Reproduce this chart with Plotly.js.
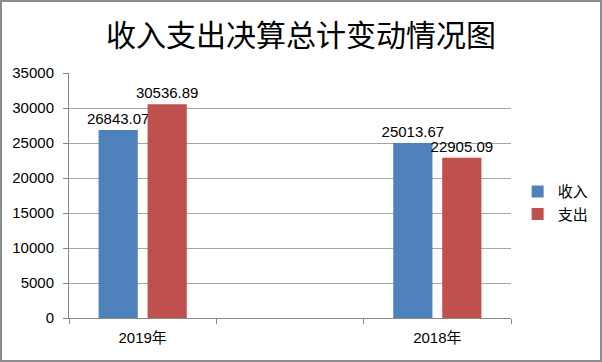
<!DOCTYPE html>
<html><head><meta charset="utf-8">
<script src="https://cdn.plot.ly/plotly-3.0.1.min.js"></script>
<style>
html,body{margin:0;padding:0;background:#fff;}
#wrap{position:relative;width:602px;height:362px;}
#chart{width:602px;height:362px;}
#frame{position:absolute;left:0;top:0;width:602px;height:362px;box-sizing:border-box;border:2px solid #8c8c8c;pointer-events:none;}
</style></head>
<body>
<div id="wrap"><div id="chart"></div><div id="frame"></div></div>
<script>
var categories = ["2019年", " ", "2018年"];
var income = [26843.07, null, 25013.67];
var expense = [30536.89, null, 22905.09];
var seriesNames = ["收入", "支出"];
var titleText = "收入支出决算总计变动情况图";

function labels(arr){ return arr.map(function(v){ return v === null ? "" : v.toFixed(2); }); }

var font = "Liberation Sans, DejaVu Sans, Noto Sans CJK SC, sans-serif";
var traces = [
  {type:"bar", name:seriesNames[0], x:categories, y:income, text:labels(income),
   textposition:"outside", cliponaxis:false, constraintext:"none",
   textfont:{size:15,color:"#000",family:font},
   marker:{color:"#4F81BD"}},
  {type:"bar", name:seriesNames[1], x:categories, y:expense, text:labels(expense),
   textposition:"outside", cliponaxis:false, constraintext:"none",
   textfont:{size:15,color:"#000",family:font},
   marker:{color:"#C0504D"}}
];
var layout = {
  width:602, height:362,
  margin:{l:69, r:91, t:73, b:44, autoexpand:false},
  paper_bgcolor:"#fff", plot_bgcolor:"#fff",
  title:{text:titleText, x:0.5, xanchor:"center", y:0.903, yanchor:"middle",
         font:{size:30, color:"#000", family:"Noto Sans CJK SC, sans-serif"}},
  barmode:"group", bargap:0.335, bargroupgap:0.2,
  showlegend:true,
  legend:{x:1.015, xanchor:"left", y:0.47, yanchor:"middle", tracegroupgap:16,
          font:{size:15, color:"#000", family:"Noto Sans CJK SC, sans-serif"}, itemwidth:30},
  xaxis:{type:"category", categoryorder:"array", categoryarray:categories,
         tickson:"boundaries", ticks:"outside", ticklen:5, tickcolor:"#888",
         showline:true, linecolor:"#888", linewidth:1, ticklabelstandoff:6,
         tickfont:{size:15, color:"#000", family:font}, fixedrange:true},
  yaxis:{range:[0,35000], dtick:5000, tick0:0, showgrid:true, gridcolor:"#a6a6a6",
         tickformat:"d", ticklabelstandoff:6,
         showline:true, linecolor:"#888", ticks:"outside", ticklen:5, tickcolor:"#888",
         tickfont:{size:15, color:"#000", family:font}, zeroline:false, fixedrange:true}
};
Plotly.newPlot("chart", traces, layout, {displayModeBar:false, staticPlot:true});
</script>
</body></html>
